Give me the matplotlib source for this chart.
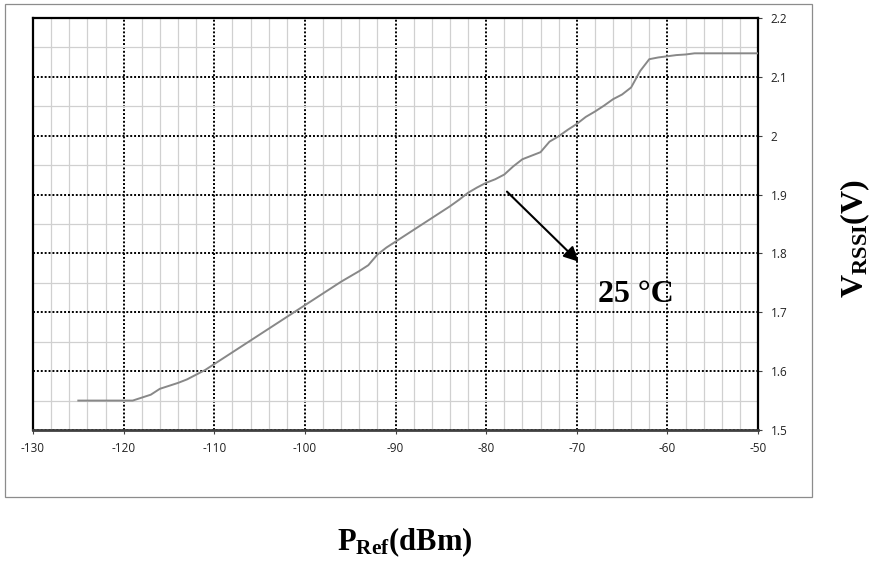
import matplotlib
matplotlib.use("Agg")
import matplotlib.pyplot as plt
from matplotlib.patches import Rectangle
from matplotlib.ticker import MultipleLocator

plt.rcParams["mathtext.fontset"] = "custom"
plt.rcParams["mathtext.rm"] = "Liberation Serif"
plt.rcParams["mathtext.bf"] = "Liberation Serif:bold"

# RSSI voltage vs reference input power, 25 degC
p_ref = [-125, -124, -123, -122, -121, -120, -119, -118, -117, -116,
         -115, -114, -113, -112, -111, -110, -109, -108, -107, -106,
         -105, -104, -103, -102, -101, -100, -99, -98, -97, -96,
         -95, -94, -93, -92, -91, -90, -89, -88, -87, -86,
         -85, -84, -83, -82, -81, -80, -79, -78, -77, -76,
         -75, -74, -73, -72, -71, -70, -69, -68, -67, -66,
         -65, -64, -63, -62, -61, -60, -59, -58, -57, -56,
         -55, -54, -53, -52, -51, -50]
v_rssi = [1.55, 1.55, 1.55, 1.55, 1.55, 1.55, 1.55, 1.555, 1.56, 1.57,
          1.575, 1.58, 1.586, 1.594, 1.602, 1.612, 1.622, 1.632, 1.642, 1.652,
          1.662, 1.672, 1.682, 1.692, 1.702, 1.712, 1.722, 1.732, 1.742, 1.752,
          1.761, 1.77, 1.78, 1.798, 1.81, 1.82, 1.83, 1.84, 1.85, 1.86,
          1.87, 1.88, 1.891, 1.903, 1.912, 1.92, 1.926, 1.934, 1.948, 1.96,
          1.966, 1.972, 1.99, 1.999, 2.01, 2.02, 2.032, 2.041, 2.051, 2.062,
          2.07, 2.082, 2.11, 2.13, 2.133, 2.135, 2.137, 2.138, 2.14, 2.14,
          2.14, 2.14, 2.14, 2.14, 2.14, 2.14]

x_ticks = list(range(-130, -49, 10))
y_ticks = [1.5, 1.6, 1.7, 1.8, 1.9, 2.0, 2.1, 2.2]
y_tick_labels = ["1.5", "1.6", "1.7", "1.8", "1.9", "2", "2.1", "2.2"]

fig = plt.figure(figsize=(8.75, 5.61), dpi=100)
ax = fig.add_axes([33 / 875, 1 - 430 / 561, 725 / 875, 412 / 561])

# outer chart frame
fig.patches.append(Rectangle((5 / 875, 1 - 497 / 561), 807 / 875, 493 / 561,
                             transform=fig.transFigure, fill=False,
                             edgecolor="#8c8c8c", linewidth=0.9))

ax.set_xlim(-130, -50)
ax.set_ylim(1.5, 2.2)
ax.xaxis.set_major_locator(MultipleLocator(10))
ax.xaxis.set_minor_locator(MultipleLocator(2))
ax.yaxis.set_major_locator(MultipleLocator(0.1))
ax.yaxis.set_minor_locator(MultipleLocator(0.05))
ax.grid(which="minor", color="#d0d0d0", linewidth=0.9, linestyle="-")
ax.grid(which="major", color="black", linewidth=1.4, linestyle=(0, (1, 1)))
ax.set_axisbelow(True)

ax.plot(p_ref, v_rssi, color="#888888", linewidth=1.4, zorder=3)

ax.set_xticks(x_ticks)
ax.set_xticklabels([str(t) for t in x_ticks])
ax.set_yticks(y_ticks)
ax.set_yticklabels(y_tick_labels)
ax.yaxis.tick_right()
ax.tick_params(which="major", length=3, width=0.8, color="#404040",
               labelsize=8.5, labelcolor="#222222", pad=6)
ax.tick_params(which="minor", length=0)
for lab in ax.get_xticklabels() + ax.get_yticklabels():
    lab.set_fontfamily("Open Sans")

for side in ["left", "top", "right"]:
    ax.spines[side].set_color("black")
    ax.spines[side].set_linewidth(1.6)
ax.spines["bottom"].set_color("#404040")
ax.spines["bottom"].set_linewidth(2.0)

ax.annotate("", xy=(-69.8, 1.786), xytext=(-77.7, 1.905),
            arrowprops=dict(arrowstyle="-|>", color="black", lw=1.5,
                            mutation_scale=22, shrinkA=0, shrinkB=0),
            zorder=5)
ax.text(-63.5, 1.7175, "25 °C", fontfamily="Liberation Serif",
        fontweight="bold", fontsize=23, ha="center", va="baseline", zorder=5)

fig.text(405 / 875, 1 - 550 / 561, r"$\mathbf{P_{Ref}(dBm)}$",
         fontsize=22, ha="center", va="baseline")
fig.text(855 / 875, 1 - 239 / 561, r"$\mathbf{V_{RSSI}(V)}$",
         fontsize=23, ha="center", va="center", rotation=90)

fig.savefig("out.png", dpi=100)
